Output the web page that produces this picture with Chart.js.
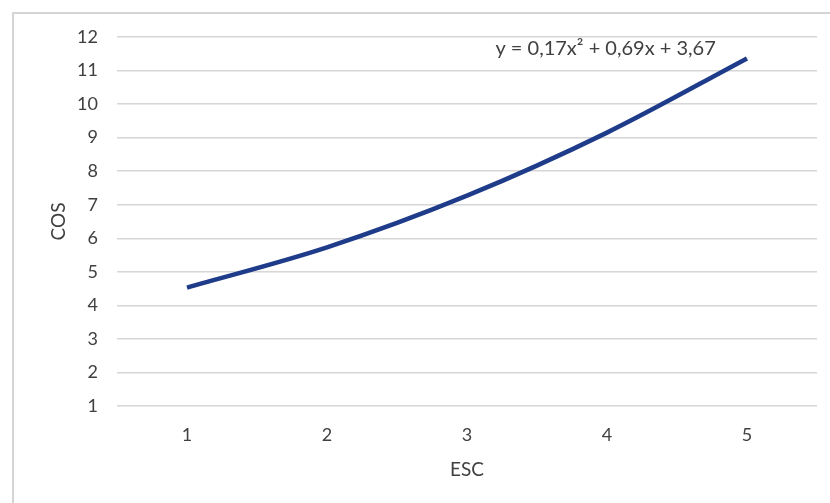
<!DOCTYPE html>
<html>
<head>
<meta charset="utf-8">
<script src="https://cdn.jsdelivr.net/npm/chart.js@4/dist/chart.umd.min.js"></script>
<style>
  html, body { margin: 0; padding: 0; background: #ffffff; }
  #wrap { width: 830px; height: 503px; position: relative; }
</style>
</head>
<body>
<div id="wrap"><canvas id="c" width="830" height="503"></canvas></div>
<script>
// ESC categories along the x axis
const escLabels = ['1', '2', '3', '4', '5'];
// COS values for each ESC level
const cosValues = [4.53, 5.73, 7.27, 9.15, 11.36];
// y axis range and step
const yMin = 1;
const yMax = 12;
const yStep = 1;
// fitted trend equation shown above the line
const trendText = 'y = 0,17x² + 0,69x + 3,67';
// where the equation sits, in data units (category index, COS)
const trendAt = { x: 2.99, y: 11.67 };

const FONT = 'Lato, "Open Sans", "Liberation Sans", sans-serif';
const TEXT = '#404040';

// light frame around the chart area
const framePlugin = {
  id: 'frame',
  beforeDraw(chart) {
    const ctx = chart.ctx;
    ctx.save();
    ctx.strokeStyle = '#d4d4d4';
    ctx.lineWidth = 2;
    ctx.strokeRect(13, 13, chart.width + 20, chart.height + 20);
    ctx.restore();
  }
};

// equation label positioned through the scales
const trendLabel = {
  id: 'trendLabel',
  afterDatasetsDraw(chart) {
    const { ctx, scales } = chart;
    const x = scales.x.getPixelForValue(trendAt.x);
    const y = scales.y.getPixelForValue(trendAt.y);
    ctx.save();
    ctx.font = '20px ' + FONT;
    ctx.fillStyle = '#404040';
    ctx.textAlign = 'center';
    ctx.textBaseline = 'middle';
    ctx.fillText(trendText, x, y);
    ctx.restore();
  }
};

new Chart(document.getElementById('c'), {
  type: 'line',
  data: {
    labels: escLabels,
    datasets: [{
      data: cosValues,
      borderColor: '#1f3c8a',
      borderWidth: 4.5,
      pointRadius: 0,
      cubicInterpolationMode: 'monotone',
      fill: false
    }]
  },
  options: {
    responsive: false,
    animation: false,
    layout: { padding: { left: 12, right: 13, top: 37, bottom: 22 } },
    plugins: { legend: { display: false }, tooltip: { enabled: false } },
    scales: {
      x: {
        offset: true,
        grid: { display: false, drawTicks: false },
        border: { display: false },
        ticks: { color: TEXT, font: { family: FONT, size: 18 }, padding: 18 },
        title: {
          display: true, text: 'ESC', color: TEXT,
          font: { family: FONT, size: 19 }, padding: { top: 0, bottom: 0 }
        },
        afterFit(scale) { scale.height = 75; }
      },
      y: {
        min: yMin,
        max: yMax,
        ticks: { stepSize: yStep, color: TEXT, font: { family: FONT, size: 18 }, padding: 19 },
        grid: { color: '#d6d6d6', lineWidth: 1.5, drawTicks: false },
        border: { display: false },
        title: {
          display: true, text: 'COS', color: TEXT,
          font: { family: FONT, size: 19 }, padding: { top: 35, bottom: 0 }
        },
        afterFit(scale) { scale.width = 105; }
      }
    }
  },
  plugins: [framePlugin, trendLabel]
});
</script>
</body>
</html>
